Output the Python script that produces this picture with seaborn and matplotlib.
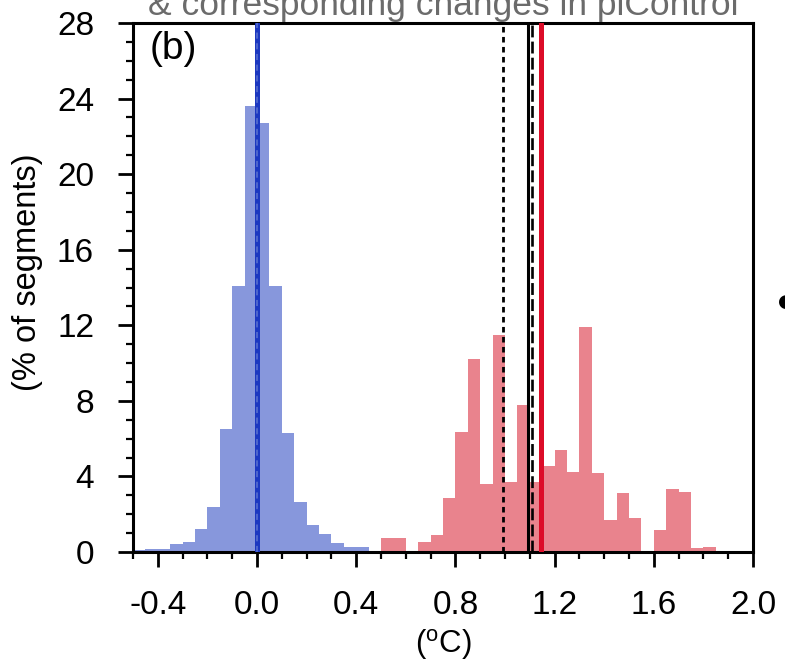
import numpy as np
import pandas as pd
import matplotlib
matplotlib.use("Agg")
import matplotlib.pyplot as plt
from matplotlib.ticker import MultipleLocator, FormatStrFormatter
import seaborn as sns

# ---------------- data ----------------
bin_width = 0.05
# piControl changes (blue), bins starting at -0.5
blue_start = -0.5
blue_pct = [0.1, 0.16, 0.14, 0.4, 0.55, 1.2, 2.4, 6.5, 14.1, 23.6,
            22.7, 14.1, 6.3, 2.65, 1.43, 0.95, 0.5, 0.25, 0.25]
# forced changes (red), bins starting at 0.5
red_start = 0.5
red_pct = [0.74, 0.74, 0.0, 0.55, 0.9, 2.85, 6.35, 10.2, 3.6, 11.5,
           3.7, 7.8, 3.7, 4.56, 5.4, 4.25, 11.9, 4.2, 1.7, 3.1,
           1.78, 0.0, 1.16, 3.33, 3.19, 0.2, 0.25]

# vertical reference lines
blue_mean = 0.0
black_dotted = 0.99
black_solid = 1.092
black_dashed = 1.108
red_mean = 1.145

x_ticks = [-0.4, 0.0, 0.4, 0.8, 1.2, 1.6, 2.0]
y_ticks = [0, 4, 8, 12, 16, 20, 24, 28]

title_text = "& corresponding changes in piControl"
panel_label = "(b)"
y_label = "(% of segments)"
x_label = r"($^{\mathrm{o}}$C)"

# ---------------- build tables ----------------
def make_df(start, pct):
    n = len(pct)
    edges = [round(start + bin_width * i, 4) for i in range(n + 1)]
    centers = [e + bin_width / 2 for e in edges[:-1]]
    return pd.DataFrame({"x": centers, "pct": pct}), edges

df_blue, edges_blue = make_df(blue_start, blue_pct)
df_red, edges_red = make_df(red_start, red_pct)

# ---------------- style ----------------
sns.set_theme(style="white")
plt.rcParams["font.family"] = ["Liberation Sans", "DejaVu Sans"]
plt.rcParams["mathtext.fontset"] = "custom"
plt.rcParams["mathtext.rm"] = "Liberation Sans"

W, H = 785, 666
fig = plt.figure(figsize=(W / 100, H / 100), dpi=100)
L, R, B, T = 133, 753, 552, 23
ax = fig.add_axes([L / W, 1 - B / H, (R - L) / W, (B - T) / H])

blue_fill = "#8797dc"
red_fill = "#e9838d"

sns.histplot(data=df_blue, x="x", weights="pct", bins=edges_blue,
             color=blue_fill, alpha=1.0, linewidth=0, element="bars",
             ax=ax, zorder=1)
sns.histplot(data=df_red, x="x", weights="pct", bins=edges_red,
             color=red_fill, alpha=1.0, linewidth=0, element="bars",
             ax=ax, zorder=1)

# vertical lines
ax.axvline(blue_mean, color="#1c38c0", lw=3.6, zorder=3)
ax.axvline(blue_mean, color="#5d73d0", lw=1.1, ls=(0, (4, 3)), zorder=4)
ax.axvline(black_dotted, color="black", lw=2.0, ls=(0, (2.0, 1.6)), zorder=3)
ax.axvline(black_solid, color="black", lw=2.2, zorder=3)
ax.axvline(black_dashed, color="black", lw=1.9, ls=(0, (4.5, 1.6)), zorder=3)
ax.axvline(red_mean, color="#dc0c28", lw=3.6, zorder=3)

# axes limits and ticks
ax.set_xlim(-0.5, 2.0)
ax.set_ylim(0, 28)
ax.set_xticks(x_ticks)
ax.set_yticks(y_ticks)
ax.xaxis.set_major_formatter(FormatStrFormatter("%.1f"))
ax.xaxis.set_minor_locator(MultipleLocator(0.1))
ax.yaxis.set_minor_locator(MultipleLocator(1))

for s in ax.spines.values():
    s.set_visible(True)
    s.set_color("black")
    s.set_linewidth(2.2)

ax.tick_params(axis="both", which="major", direction="out", length=10.5,
               width=2.0, color="black", labelsize=24, labelcolor="black",
               bottom=True, left=True, top=False, right=False)
ax.tick_params(axis="both", which="minor", direction="out", length=5,
               width=1.6, color="black", bottom=True, left=True,
               top=False, right=False)
ax.tick_params(axis="x", which="major", pad=17)
ax.tick_params(axis="y", which="major", pad=17.5)

ax.set_xlabel(x_label, fontsize=22.5, color="black")
ax.set_ylabel(y_label, fontsize=23.5, color="black")
ax.xaxis.set_label_coords(0.5, -0.142)
ax.yaxis.set_label_coords(-0.145, 0.529)

ax.text(0.027, 0.984, panel_label, transform=ax.transAxes, fontsize=28,
        ha="left", va="top", color="black")

fig.text((L + R) / 2 / W, 1 - 15 / H, title_text, color="#6b6b6b",
         fontsize=25.5, ha="center", va="baseline")

fig.text(786 / W, 1 - 302 / H, "\u25CF", color="black", fontsize=13,
         ha="center", va="center", family="DejaVu Sans")

fig.savefig("out.png", dpi=100)
